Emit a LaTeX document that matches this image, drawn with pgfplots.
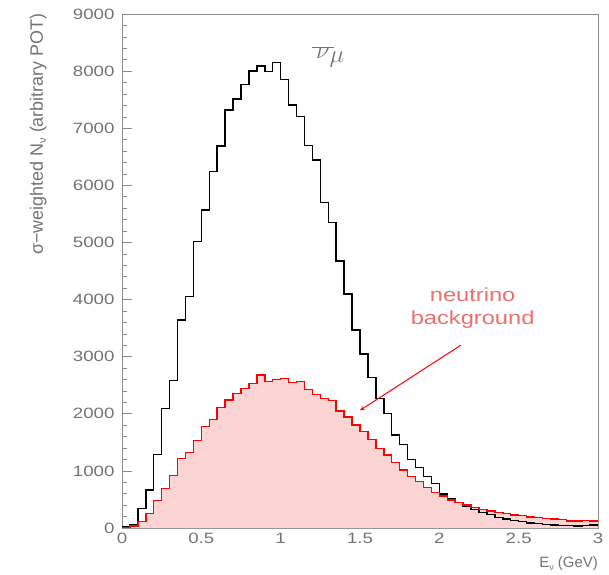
\documentclass[border=0pt]{standalone}
\usepackage{fontspec}
\setmainfont{Liberation Sans}[FakeStretch=1.25]
\newfontfamily\plainsans{Liberation Sans}
\usepackage{pgfplots}
\pgfplotsset{compat=1.18}
\definecolor{axgray}{RGB}{140,140,140}
\definecolor{txtgray}{RGB}{115,115,115}
\definecolor{anred}{RGB}{238,110,110}
\definecolor{fillpink}{RGB}{252,212,212}

\pgfplotstableread{
x black red
0.00 30 10
0.05 50 35
0.10 345 110
0.15 665 257
0.20 1290 478
0.25 2095 695
0.30 2580 916
0.35 3640 1220
0.40 4050 1319
0.45 5013 1529
0.50 5568 1774
0.55 6240 1903
0.60 6689 2113
0.65 7319 2241
0.70 7512 2359
0.75 7769 2446
0.80 8002 2534
0.85 8090 2679
0.90 7990 2562
0.95 8148 2604
1.00 7857 2621
1.05 7407 2551
1.10 7203 2562
1.15 6694 2429
1.20 6444 2341
1.25 5696 2271
1.30 5346 2235
1.35 4675 2050
1.40 4100 1940
1.45 3470 1800
1.50 3050 1686
1.55 2632 1553
1.60 2270 1395
1.65 2008 1278
1.70 1628 1144
1.75 1465 1016
1.80 1203 899
1.85 1062 811
1.90 899 712
1.95 782 625
2.00 595 560
2.05 520 490
2.10 450 450
2.15 373 403
2.20 327 362
2.25 275 327
2.30 240 298
2.35 187 268
2.40 158 257
2.45 130 230
2.50 110 215
2.55 90 195
2.60 75 180
2.65 60 170
2.70 50 160
2.75 45 150
2.80 40 125
2.85 35 120
2.90 40 135
2.95 50 120
3.00 50 120
}\hist

\begin{document}
\begin{tikzpicture}
\begin{axis}[
  scale only axis, width=476bp, height=514bp,
  xmin=0, xmax=3, ymin=0, ymax=9000,
  axis line style={axgray, line width=0.8pt},
  every tick/.style={axgray, line width=0.6pt},
  tick align=inside,
  xtick={0,0.5,1,1.5,2,2.5,3},
  xticklabels={0,0.5,1,1.5,2,2.5,3},
  ytick={0,1000,...,9000},
  minor x tick num=4, minor y tick num=4,
  xtick pos=left, ytick pos=left,
  major tick length=10bp, minor tick length=5bp,
  scaled y ticks=false,
  /pgf/number format/1000 sep={},
  /pgf/number format/assume math mode=true,
  ticklabel style={font=\fontsize{15}{15}\selectfont, text=txtgray},
  yticklabel style={xshift=-4bp},
  xticklabel style={yshift=-2bp},
  clip mode=individual,
]
\addplot[const plot, fill=fillpink, draw=none] table[x=x, y=red] {\hist} \closedcycle;
\addplot[const plot, black, line width=1.5pt] table[x=x, y=black] {\hist};
\addplot[const plot, red, line width=1.5pt] table[x=x, y=red] {\hist};

\node[text=txtgray, font=\fontsize{38}{38}\selectfont] at (axis cs:1.30,8250) {$\overline{\,\nu\,}_{\!\mu}$};
\node[text=anred, font=\fontsize{19}{23}\selectfont, align=center] at (axis cs:2.21,3850) {neutrino\\background};
\draw[red, line width=1pt, ->, >=stealth] (axis cs:2.135,3200) -- (axis cs:1.50,2060);

\node[rotate=90, anchor=east, text=txtgray, font=\plainsans\fontsize{18}{18}\selectfont] at (rel axis cs:-0.176,1.008) {σ−weighted N\raisebox{-0.35ex}{\fontsize{11}{11}\selectfont ν} (arbitrary POT)};
\node[anchor=north east, text=txtgray, font=\plainsans\fontsize{15}{15}\selectfont, inner sep=0pt] at (rel axis cs:1.0,-0.055) {E\raisebox{-0.35ex}{\fontsize{9}{9}\selectfont ν} (GeV)};
\end{axis}
\pgfresetboundingbox
\path (-122bp,-47bp) rectangle (487bp,528bp);
\end{tikzpicture}
\end{document}
